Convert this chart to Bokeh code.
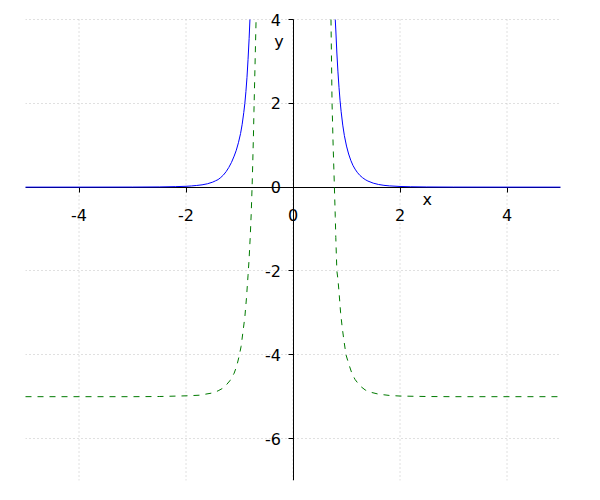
from bokeh.plotting import figure
from bokeh.models import LinearAxis, FixedTicker, Grid, Range1d, ColumnDataSource
from bokeh.core.properties import value
from bokeh.embed import file_html
from bokeh.resources import INLINE

# blue solid curve (left and right branches), drawn up to the top of the axes (y = 4)
blue_left_x = [-5.0, -4.0, -3.0, -2.5, -2.2, -2.0, -1.9, -1.8, -1.7, -1.6, -1.5, -1.45, -1.4, -1.35, -1.3, -1.25,
               -1.2, -1.15, -1.10, -1.06, -1.02, -0.98, -0.95, -0.92, -0.90, -0.88, -0.86, -0.84, -0.82, -0.805]
blue_left_y = [0.0, 0.0005, 0.002, 0.005, 0.012, 0.02, 0.028, 0.04, 0.055, 0.08, 0.12, 0.15, 0.18, 0.23, 0.29, 0.37,
               0.47, 0.59, 0.74, 0.88, 1.06, 1.28, 1.50, 1.78, 2.00, 2.28, 2.62, 3.05, 3.55, 4.0]
blue_right_x = [0.79, 0.80, 0.82, 0.84, 0.86, 0.88, 0.90, 0.93, 0.96, 1.00, 1.04, 1.08, 1.12, 1.16, 1.20,
                1.25, 1.30, 1.35, 1.40, 1.50, 1.60, 1.70, 1.80, 2.00, 2.20, 2.50, 3.00, 4.00, 5.00]
blue_right_y = [4.0, 3.75, 3.2, 2.75, 2.38, 2.06, 1.8, 1.48, 1.23, 0.98, 0.79, 0.64, 0.52, 0.43, 0.355,
                0.28, 0.225, 0.18, 0.145, 0.095, 0.063, 0.043, 0.03, 0.016, 0.009, 0.004, 0.0015, 0.0003, 0.0]

# green dashed curve
green_left_x = [-5.0, -3.0, -2.5, -2.0, -1.75, -1.5, -1.4, -1.3, -1.24, -1.18, -1.1, -1.05, -1.01, -0.97, -0.93, -0.90,
                -0.87, -0.84, -0.82, -0.80, -0.78, -0.76, -0.74, -0.73, -0.71, -0.69]
green_left_y = [-5.0, -5.0, -4.996, -4.98, -4.965, -4.91, -4.86, -4.79, -4.71, -4.62, -4.44, -4.26, -4.05, -3.8, -3.4, -3.1,
                -2.65, -2.1, -1.7, -1.2, -0.6, 0.2, 1.2, 1.8, 2.9, 4.0]
green_right_x = [0.71, 0.73, 0.75, 0.77, 0.79, 0.80, 0.82, 0.84, 0.86, 0.89, 0.92, 0.95, 0.99, 1.05,
                 1.10, 1.16, 1.25, 1.35, 1.44, 1.60, 1.80, 2.00, 2.50, 3.00, 5.00]
green_right_y = [4.0, 2.0, 1.0, 0.17, -0.7, -1.2, -2.0, -2.2, -2.5, -3.0, -3.35, -3.64, -4.0, -4.25,
                 -4.44, -4.59, -4.74, -4.84, -4.89, -4.94, -4.97, -4.985, -4.996, -5.0, -5.0]

x_ticks = [-4, -2, 0, 2, 4]
y_ticks = [-6, -4, -2, 0, 2, 4]
x_tick_labels = ["-4", "-2", "0", "2", "4"]
y_tick_labels = ["-6", "-4", "-2", "0", "2", "4"]
y_min, y_max = -7, 4

FONT = "DejaVu Sans"

# frame extends 19 px above y = 4 so that the top tick label is not clipped
top_pad = 19 * (y_max - y_min) / 461.0

p = figure(width=592, height=492, output_backend="svg", toolbar_location=None,
           x_axis_location=None, y_axis_location=None,
           x_range=Range1d(-5, 5), y_range=Range1d(y_min, y_max + top_pad),
           min_border_left=25, min_border_right=32, min_border_top=0, min_border_bottom=12)
p.outline_line_color = None
p.background_fill_color = "white"
p.border_fill_color = "white"
p.xgrid.visible = False
p.ygrid.visible = False

xt = FixedTicker(ticks=x_ticks)
yt = FixedTicker(ticks=y_ticks)

xaxis = LinearAxis(ticker=xt, fixed_location=0,
                   major_label_overrides=dict(zip(x_ticks, x_tick_labels)))
yaxis = LinearAxis(ticker=yt, fixed_location=0, bounds=(y_min, y_max),
                   major_label_overrides=dict(zip(y_ticks, y_tick_labels)))
for ax in (xaxis, yaxis):
    ax.axis_line_color = "black"
    ax.axis_line_width = 1
    ax.major_tick_line_color = "black"
    ax.major_tick_in = 0
    ax.major_tick_out = 5
    ax.minor_tick_line_color = None
    ax.major_label_text_font = FONT
    ax.major_label_text_font_size = "16px"
    ax.major_label_text_color = "black"
xaxis.major_label_standoff = 17
yaxis.major_label_standoff = 7
p.add_layout(xaxis, "below")
p.add_layout(yaxis, "left")

# horizontal grid lines
p.add_layout(Grid(dimension=1, ticker=yt, grid_line_color="#c0c0c0", grid_line_dash="1 3"))
# vertical grid lines, limited to the y extent of the axes
p.segment(x0=x_ticks, y0=[y_min] * len(x_ticks), x1=x_ticks, y1=[y_max] * len(x_ticks),
          line_color="#c0c0c0", line_dash="1 3", line_width=1)

for xs, ys in ((blue_left_x, blue_left_y), (blue_right_x, blue_right_y)):
    r = p.line(xs, ys, line_color="#0000ff", line_width=1)
    r.level = "overlay"
for xs, ys in ((green_left_x, green_left_y), (green_right_x, green_right_y)):
    r = p.line(xs, ys, line_color="#007a00", line_width=1, line_dash="6 6")
    r.level = "overlay"

lbl = ColumnDataSource(dict(x=[2.51, -0.26], y=[-0.29, 3.48], t=["x", "y"]))
p.text(x="x", y="y", text="t", source=lbl, text_font=value(FONT), text_font_size="16px",
       text_align="center", text_baseline="middle", text_color="black")

open("out.html", "w").write(file_html(p, INLINE))
